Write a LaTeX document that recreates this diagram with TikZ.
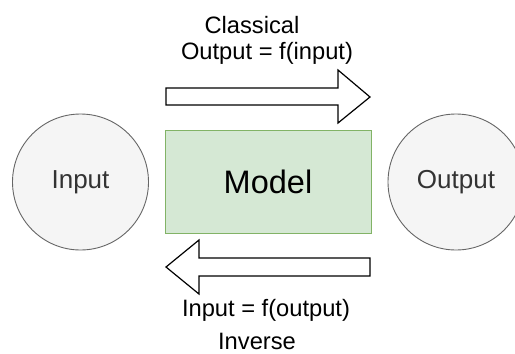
\documentclass[tikz,border=0pt]{standalone}
\usepackage{fontspec}
\setmainfont{Liberation Sans}
\definecolor{cfill}{HTML}{F5F5F5}
\definecolor{cstroke}{HTML}{666666}
\definecolor{ctext}{HTML}{333333}
\definecolor{mfill}{HTML}{D5E8D4}
\definecolor{mstroke}{HTML}{82B366}
\begin{document}
\begin{tikzpicture}[x=1pt,y=-1pt,
  circ/.style={circle,draw=cstroke,fill=cfill,line width=0.9pt,minimum size=136pt,inner sep=0pt,text=ctext,font=\fontsize{26}{30}\selectfont},
  modelbox/.style={rectangle,draw=mstroke,fill=mfill,line width=0.9pt,minimum width=206pt,minimum height=103pt,inner sep=0pt,font=\fontsize{32.5}{38}\selectfont},
  lbl/.style={inner sep=0pt,font=\fontsize{23.7}{28}\selectfont},
  bigarrow/.style={draw=black,fill=white,line width=1.2pt,line join=miter}]
\useasboundingbox (0,0) rectangle (515,354);
\node[circ] (in) at (80.5,182) {Input};
\node[circ] (out) at (456,182) {Output};
\node[modelbox] (model) at (268,181.5) {Model};
\draw[bigarrow] (166,88) -- (338,88) -- (338,70) -- (370,97) -- (338,123) -- (338,105) -- (166,105) -- cycle;
\draw[bigarrow] (370,258) -- (199,258) -- (199,240) -- (166,267) -- (199,294) -- (199,276) -- (370,276) -- cycle;
\node[lbl] (cl) at (252,25) {Classical};
\node[lbl] (clf) at (267,53) {Output = f(input)};
\node[lbl] (invf) at (266,310) {Input = f(output)};
\node[lbl] (inv) at (257,341.5) {Inverse};
\end{tikzpicture}
\end{document}
